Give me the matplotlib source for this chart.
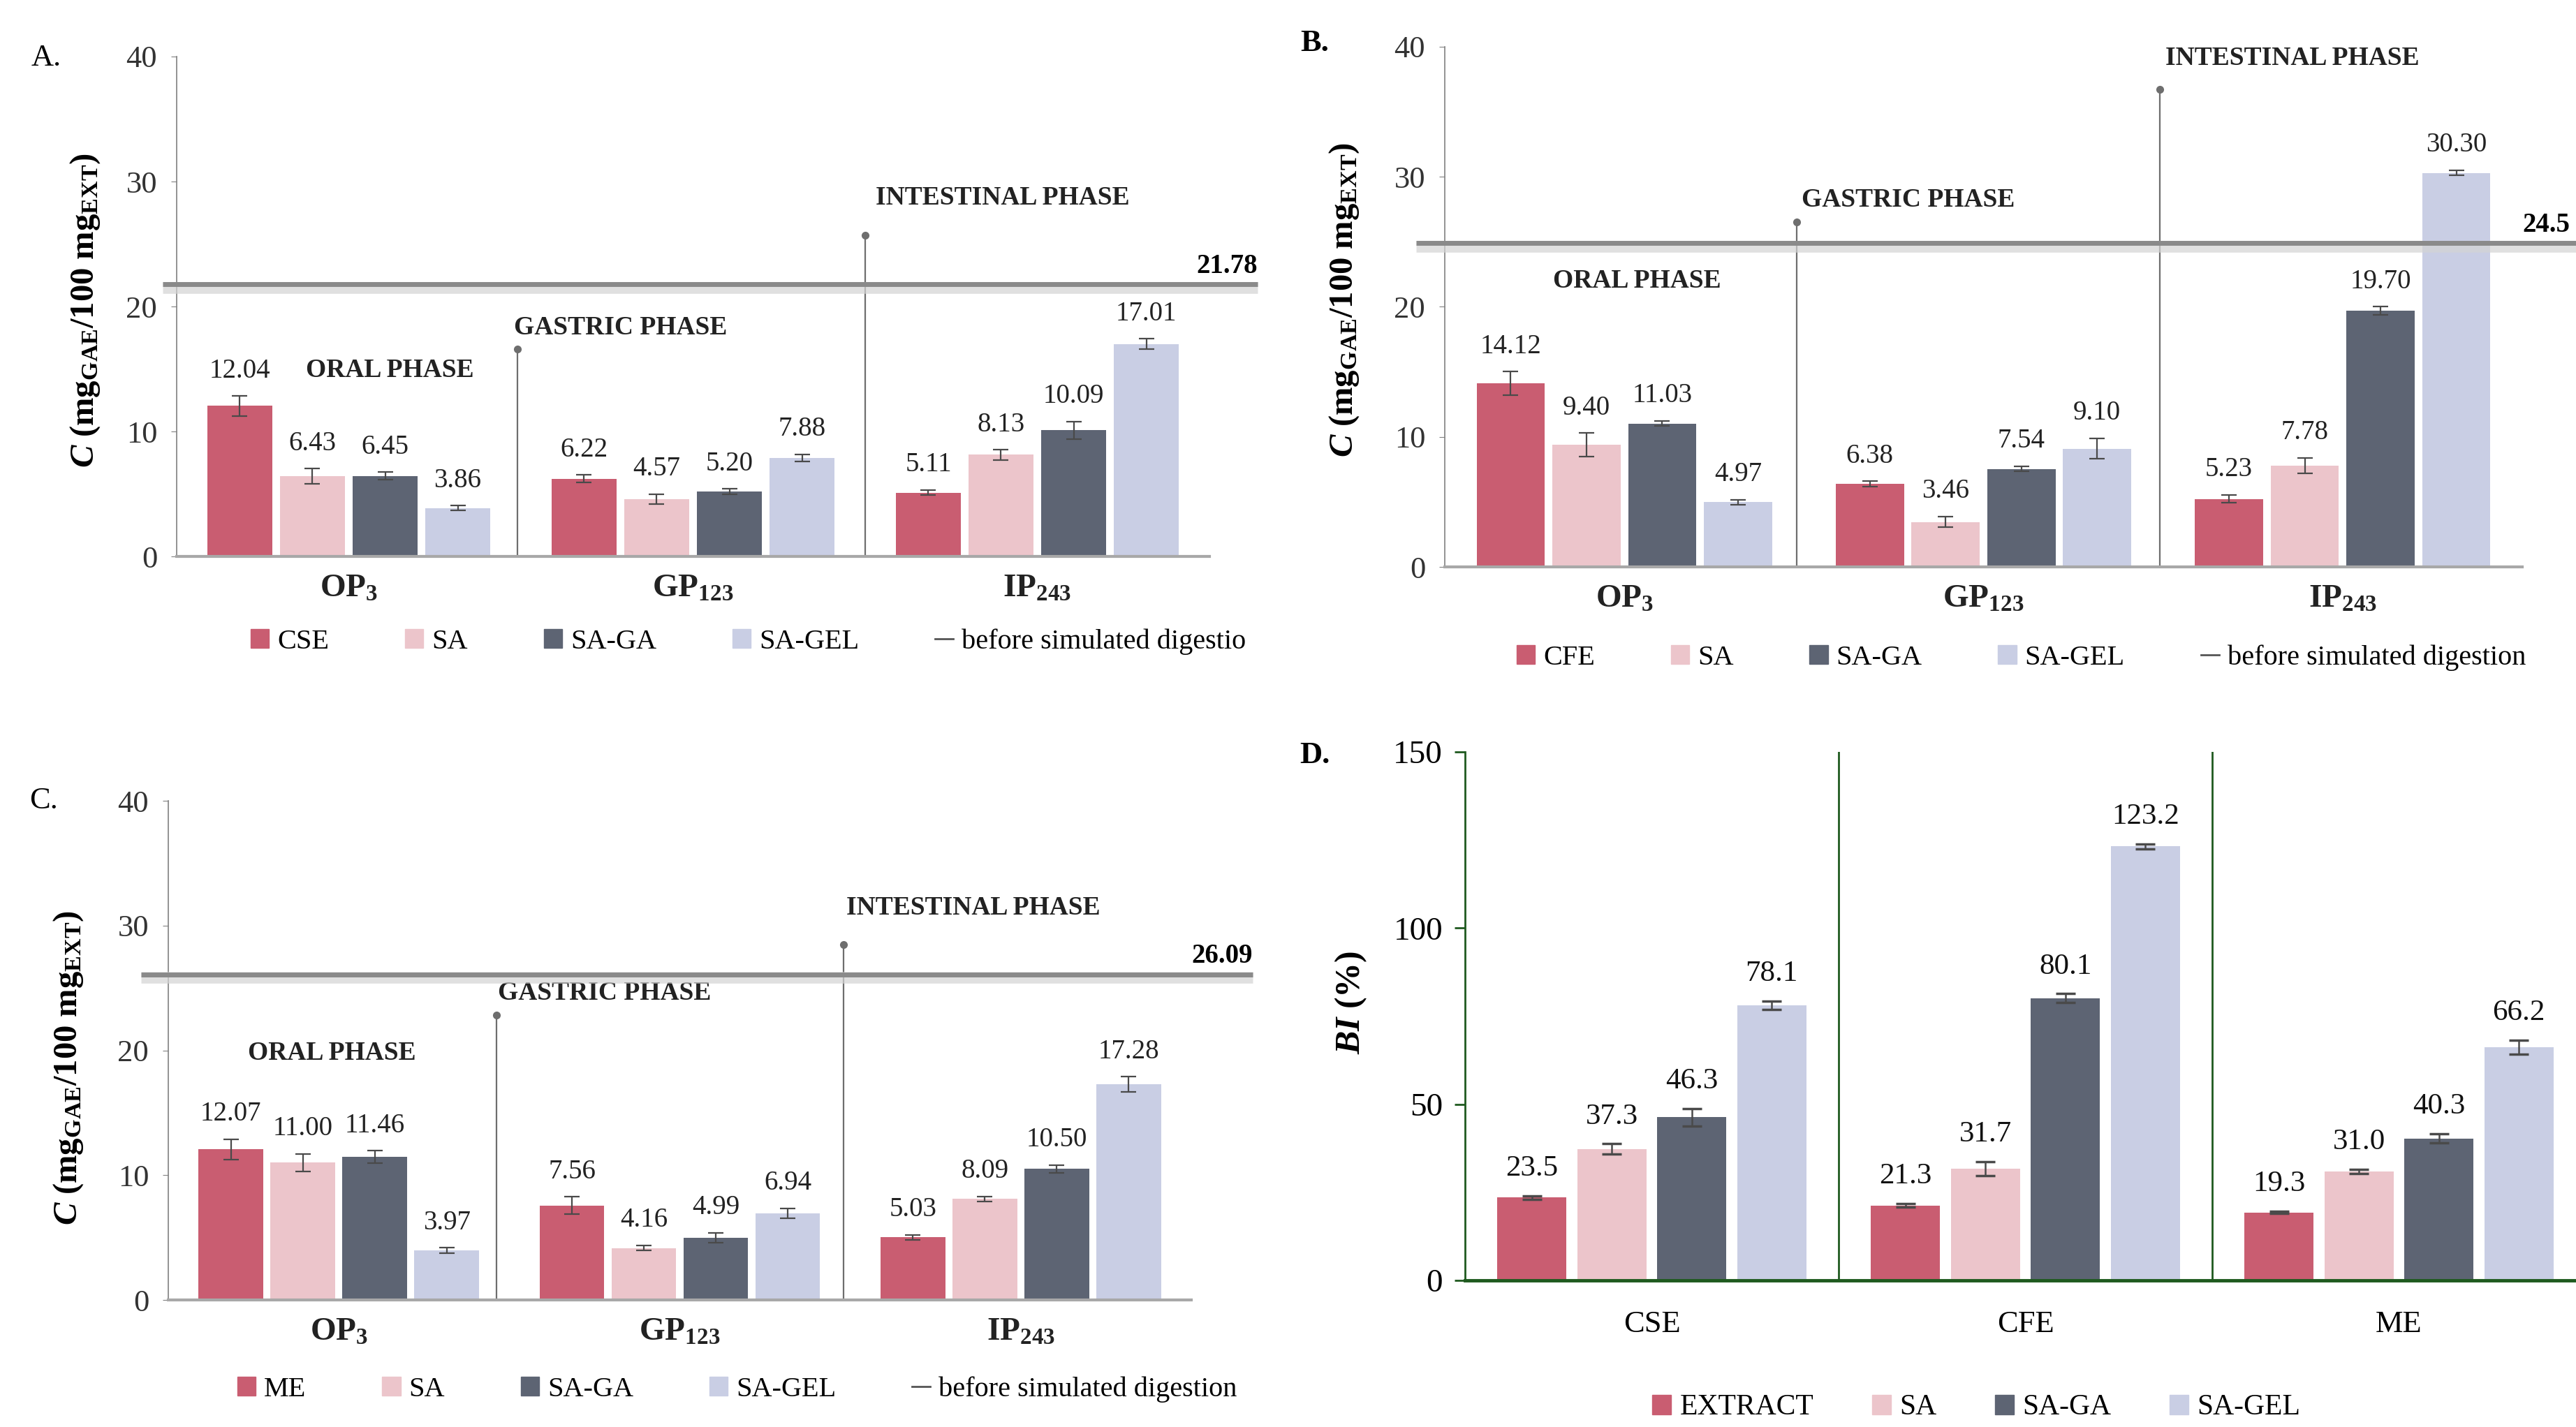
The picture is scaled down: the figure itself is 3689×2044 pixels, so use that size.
import matplotlib.pyplot as plt
from matplotlib.patches import Patch
from matplotlib.lines import Line2D
import numpy as np

plt.rcParams['font.family'] = ['Liberation Serif', 'DejaVu Serif']
plt.rcParams['mathtext.fontset'] = 'custom'
plt.rcParams['mathtext.rm'] = 'Liberation Serif'
plt.rcParams['mathtext.it'] = 'Liberation Serif:italic'
plt.rcParams['mathtext.bf'] = 'Liberation Serif:bold'
plt.rcParams['mathtext.bfit'] = 'Liberation Serif:italic:bold'

W, H = 3689, 2044

phases = [r'$\mathbf{OP_3}$', r'$\mathbf{GP_{123}}$', r'$\mathbf{IP_{243}}$']
colors = ['#C95D71', '#ECC5CB', '#5D6473', '#C9CEE4']

# A. CSE (values per phase OP, GP, IP)
a_ext = [12.04, 6.22, 5.11]
a_sa = [6.43, 4.57, 8.13]
a_saga = [6.45, 5.20, 10.09]
a_sagel = [3.86, 7.88, 17.01]
a_err = [[0.8, 0.3, 0.2], [0.6, 0.4, 0.4], [0.3, 0.2, 0.7], [0.2, 0.3, 0.4]]
a_ref = 21.78

# B. CFE
b_ext = [14.12, 6.38, 5.23]
b_sa = [9.40, 3.46, 7.78]
b_saga = [11.03, 7.54, 19.70]
b_sagel = [4.97, 9.10, 30.30]
b_err = [[0.9, 0.2, 0.3], [0.9, 0.4, 0.6], [0.2, 0.2, 0.3], [0.2, 0.8, 0.2]]
b_ref = 24.9

# C. ME
c_ext = [12.07, 7.56, 5.03]
c_sa = [11.00, 4.16, 8.09]
c_saga = [11.46, 4.99, 10.50]
c_sagel = [3.97, 6.94, 17.28]
c_err = [[0.8, 0.7, 0.2], [0.7, 0.2, 0.2], [0.5, 0.4, 0.3], [0.2, 0.4, 0.6]]
c_ref = 26.09

# D. BI (%) per extract CSE, CFE, ME
d_cats = ['CSE', 'CFE', 'ME']
d_ext = [23.5, 21.3, 19.3]
d_sa = [37.3, 31.7, 31.0]
d_saga = [46.3, 80.1, 40.3]
d_sagel = [78.1, 123.2, 66.2]
d_err = [[0.5, 0.5, 0.3], [1.5, 2.0, 0.6], [2.5, 1.3, 1.3], [1.2, 0.7, 2.0]]


def rect(x0, x1, y_top, y_bot):
    return [x0 / W, 1 - y_bot / H, (x1 - x0) / W, (y_bot - y_top) / H]


fig = plt.figure(figsize=(W / 100, H / 100), dpi=100)


def phase_panel(box, series, errs, name, ref, ref_txt, ref_span, ref_txt_left,
                seps, sep_tops, labels, legend_xy, legend_txt, ylab_xy):
    ax = fig.add_axes(rect(*box))
    x = np.arange(3)
    step, width = 0.211, 0.19
    for i, (vals, e) in enumerate(zip(series, errs)):
        xs = x + (i - 1.5) * step
        ax.bar(xs, vals, width, color=colors[i], zorder=2)
        ax.errorbar(xs, vals, yerr=e, fmt='none', ecolor='#4a4a4a',
                    elinewidth=1.6, capsize=8, capthick=1.6, zorder=3)
        for xi, v, ei in zip(xs, vals, e):
            ax.annotate('%.2f' % v, (xi, v + ei), xytext=(0, 26),
                        textcoords='offset points', ha='center', va='center',
                        fontsize=28, color='#222222')
    # phase separators
    for s, t in zip(seps, sep_tops):
        ax.plot([s, s], [0, t], color='#6e6e6e', lw=1.6, zorder=1)
        ax.plot([s], [t], 'o', color='#6e6e6e', ms=7, zorder=1)
    # value before digestion
    ax.plot(ref_span, [ref - 0.25, ref - 0.25], color='#d4d4d4', lw=12, alpha=0.7,
            clip_on=False, zorder=4, solid_capstyle='butt')
    ax.plot(ref_span, [ref, ref], color='#8a8a8a', lw=5, clip_on=False,
            zorder=4, solid_capstyle='butt')
    if ref_txt_left is not None:
        ax.text(ref_txt_left, ref + 0.4, ref_txt, ha='left', va='bottom',
                fontsize=28, fontweight='bold', clip_on=False)
    else:
        ax.text(ref_span[1], ref + 0.4, ref_txt, ha='right', va='bottom',
                fontsize=28, fontweight='bold', clip_on=False)
    for txt, (tx, ty) in zip(['ORAL PHASE', 'GASTRIC PHASE', 'INTESTINAL PHASE'], labels):
        ax.text(tx, ty, txt, ha='center', va='center', fontsize=27,
                fontweight='bold', color='#222222')
    ax.set_xlim(-0.5, 2.5)
    ax.set_ylim(0, 40)
    ax.set_yticks([0, 10, 20, 30, 40])
    ax.set_xticks(x)
    ax.set_xticklabels(phases, fontsize=34)
    for sp in ['top', 'right']:
        ax.spines[sp].set_visible(False)
    ax.spines['left'].set_color('#808080')
    ax.spines['left'].set_linewidth(1.2)
    ax.spines['bottom'].set_color('#a8a8a8')
    ax.spines['bottom'].set_linewidth(3)
    ax.tick_params(axis='y', direction='out', length=6, color='#808080',
                   labelsize=32, pad=14, labelcolor='#333333')
    ax.tick_params(axis='x', length=0, pad=18, labelcolor='#222222')
    fig.text(ylab_xy[0] / W, 1 - ylab_xy[1] / H,
             r'$\mathbfit{C}\ \mathbf{(mg_{GAE}/100\ mg_{EXT})}$',
             rotation=90, ha='center', va='center', fontsize=35)
    handles = [Patch(color=colors[0], label=name), Patch(color=colors[1], label='SA'),
               Patch(color=colors[2], label='SA-GA'), Patch(color=colors[3], label='SA-GEL'),
               Line2D([], [], color='#555555', lw=2, label=legend_txt)]
    fig.legend(handles=handles, ncol=5, loc='center left',
               bbox_to_anchor=(legend_xy[0] / W, 1 - legend_xy[1] / H),
               frameon=False, fontsize=29, handlelength=0.65, handleheight=0.65,
               handletextpad=0.3, columnspacing=2.7, borderpad=0, borderaxespad=0)
    return ax


phase_panel((253, 1732, 81, 797), [a_ext, a_sa, a_saga, a_sagel], a_err, 'CSE',
            a_ref, '21.78', [-0.54, 2.64], None,
            [0.49, 1.50], [16.6, 25.7],
            [(0.12, 14.9), (0.79, 18.3), (1.90, 28.7)],
            (359, 919), 'before simulated digestio', (122, 445))

phase_panel((2069, 3612, 67, 812), [b_ext, b_sa, b_saga, b_sagel], b_err, 'CFE',
            b_ref, '24.5', [-0.58, 2.7], 2.5,
            [0.48, 1.49], [26.5, 36.7],
            [(0.035, 22.0), (0.79, 28.2), (1.86, 39.1)],
            (2172, 942), 'before simulated digestion', (1925, 430))

phase_panel((241, 1706, 1147, 1862), [c_ext, c_sa, c_saga, c_sagel], c_err, 'ME',
            c_ref, '26.09', [-0.58, 2.68], None,
            [0.463, 1.48], [22.8, 28.5],
            [(-0.02, 19.8), (0.78, 24.6), (1.86, 31.4)],
            (340, 1990), 'before simulated digestion', (98, 1530))

# panel D
green = '#1F5A1F'
ax = fig.add_axes(rect(2098, 3703, 1077, 1834))
x = np.arange(3)
step, width = 0.214, 0.185
for i, (vals, e) in enumerate(zip([d_ext, d_sa, d_saga, d_sagel], d_err)):
    xs = x + (i - 1.5) * step
    ax.bar(xs, vals, width, color=colors[i], zorder=2)
    ax.errorbar(xs, vals, yerr=e, fmt='none', ecolor='#4a4a4a',
                elinewidth=1.8, capsize=10, capthick=2.5, zorder=3)
    for xi, v, ei in zip(xs, vals, e):
        ax.annotate('%.1f' % v, (xi, v + ei), xytext=(0, 28),
                    textcoords='offset points', ha='center', va='center',
                    fontsize=31, color='#111111')
for s in [0.5, 1.5]:
    ax.plot([s, s], [0, 150], color=green, lw=2, zorder=1)
ax.set_xlim(-0.5, 2.5)
ax.set_ylim(0, 150)
ax.set_yticks([0, 50, 100, 150])
ax.set_xticks(x)
ax.set_xticklabels(d_cats, fontsize=32)
for sp in ['top', 'right']:
    ax.spines[sp].set_visible(False)
ax.spines['left'].set_color(green)
ax.spines['left'].set_linewidth(2)
ax.spines['bottom'].set_color(green)
ax.spines['bottom'].set_linewidth(3.5)
ax.tick_params(axis='y', direction='out', length=11, width=2, color=green,
               labelsize=34, pad=12)
ax.tick_params(axis='x', length=0, pad=31)
fig.text(1935 / W, 1 - 1436 / H, r'$\mathbfit{BI}\ \mathbf{(\%)}$', rotation=90,
         ha='center', va='center', fontsize=36)
handles = [Patch(color=colors[0], label='EXTRACT'), Patch(color=colors[1], label='SA'),
           Patch(color=colors[2], label='SA-GA'), Patch(color=colors[3], label='SA-GEL')]
fig.legend(handles=handles, ncol=4, loc='center',
           bbox_to_anchor=(2830 / W, 1 - 2016 / H), frameon=False, fontsize=30,
           handlelength=0.65, handleheight=0.65, handletextpad=0.3,
           columnspacing=2.0, borderpad=0, borderaxespad=0)

# panel letters
for txt, (px, py), wt in zip(['A.', 'B.', 'C.', 'D.'],
                             [(66, 83), (1883, 62), (63, 1147), (1883, 1082)],
                             ['normal', 'bold', 'normal', 'bold']):
    fig.text(px / W, 1 - py / H, txt, ha='center', va='center', fontsize=32,
             fontweight=wt)

fig.savefig('out.png', dpi=100, facecolor='white')
